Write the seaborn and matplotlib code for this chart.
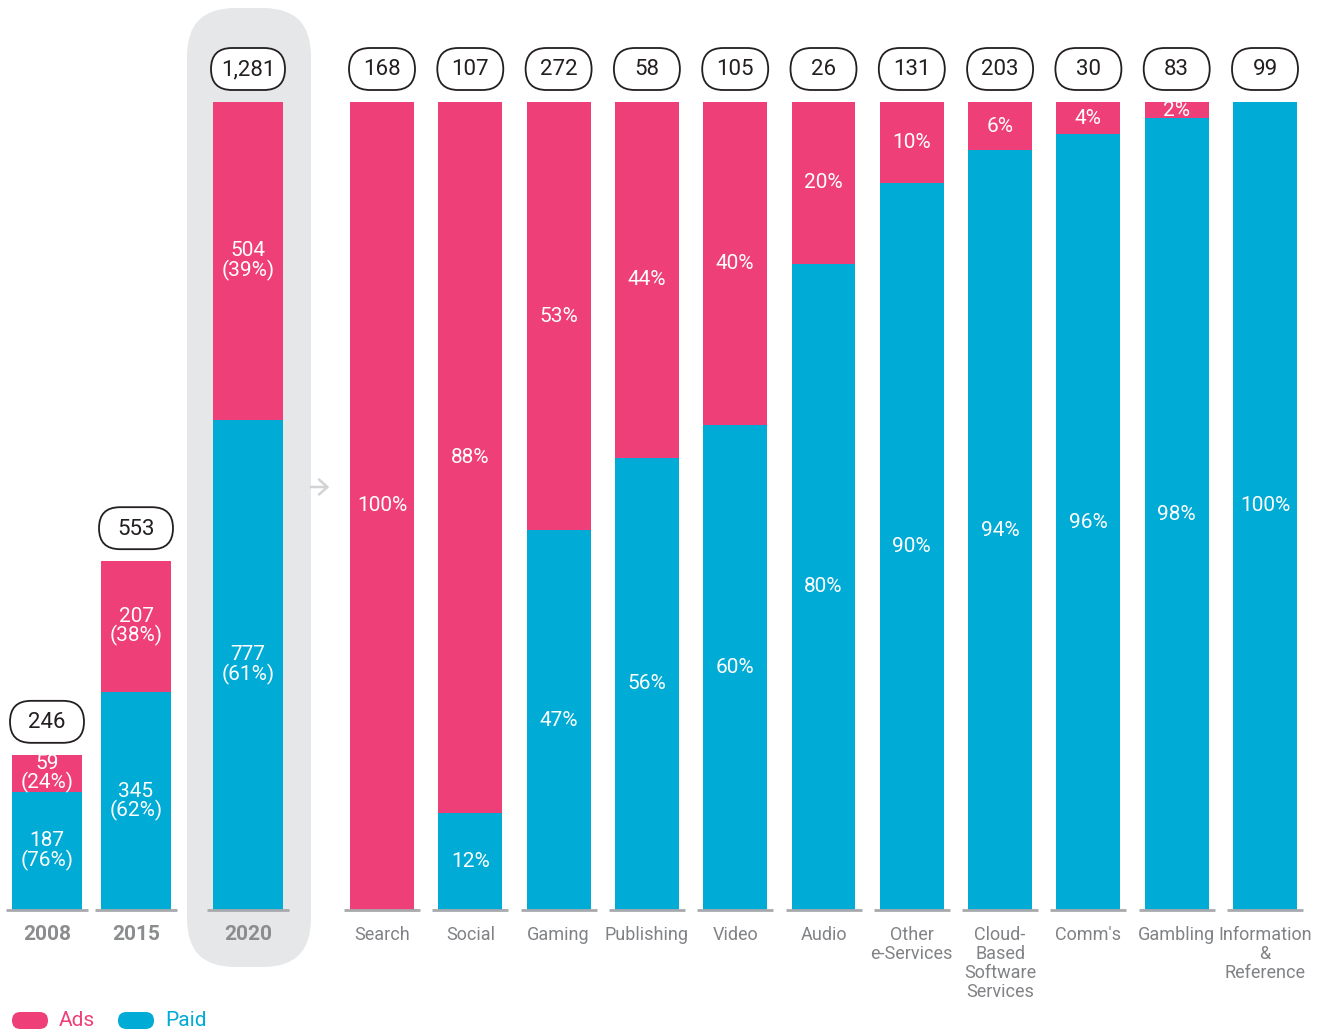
import matplotlib
matplotlib.use("Agg")
import matplotlib.pyplot as plt
from matplotlib.patches import FancyBboxPatch
import seaborn as sns
import pandas as pd

# data
years = ['2008', '2015', '2020']
year_total = [246, 553, 1281]
year_ads = [59, 207, 504]
year_paid = [187, 345, 777]
year_ads_pct = [24, 38, 39]
year_paid_pct = [76, 62, 61]

categories = ['Search', 'Social', 'Gaming', 'Publishing', 'Video', 'Audio',
              'Other\ne-Services', 'Cloud-\nBased\nSoftware\nServices', "Comm's",
              'Gambling', 'Information\n&\nReference']
cat_total = [168, 107, 272, 58, 105, 26, 131, 203, 30, 83, 99]
cat_ads_pct = [100, 88, 53, 44, 40, 20, 10, 6, 4, 2, 0]
cat_paid_pct = [0, 12, 47, 56, 60, 80, 90, 94, 96, 98, 100]

PINK = '#EF3F78'
BLUE = '#00ABD5'
GREY_TXT = '#808285'
FONT = 'Roboto'

sns.set_theme(style='white')
plt.rcParams['font.family'] = [FONT, 'DejaVu Sans']

W, H = 1323, 1034
fig = plt.figure(figsize=(W / 100, H / 100), dpi=100)
bg = fig.add_axes([0, 0, 1, 1])
bg.set_xlim(0, W)
bg.set_ylim(H, 0)
bg.axis('off')
bg.set_zorder(0)
ax = fig.add_axes([0, 0, 1, 1])
ax.set_zorder(1)
ax.patch.set_visible(False)

# layout: x in pixel units, y: full bar = 1.0
base_px, full_px = 910, 808
ax.set_xlim(0, W)
ax.set_ylim(-(H - base_px) / full_px, base_px / full_px)

left_x = [47, 136, 248]
step = 88.3
right_x = [382 + step * i for i in range(len(categories))]
left_w, right_w = 70, 64

scale = year_total[-1]
left = pd.DataFrame({'x': left_x, 'total': [t / scale for t in year_total],
                     'paid': [p / scale for p in year_paid]})
right = pd.DataFrame({'x': right_x,
                      'total': [(a + p) / 100 for a, p in zip(cat_ads_pct, cat_paid_pct)],
                      'paid': [p / 100 for p in cat_paid_pct]})

for df, w in [(left, left_w / 89), (right, right_w / step)]:
    sns.barplot(data=df, x='x', y='total', native_scale=True, orient='x', color=PINK,
                saturation=1, width=w, errorbar=None, ax=ax, linewidth=0)
    sns.barplot(data=df, x='x', y='paid', native_scale=True, orient='x', color=BLUE,
                saturation=1, width=w, errorbar=None, ax=ax, linewidth=0)
ax.set_xlim(0, W)
ax.set_ylim(-(H - base_px) / full_px, base_px / full_px)
ax.axis('off')

def ypx(y):
    return H - ax.transData.transform((0, y))[1]

# grey highlight behind 2020
bg.add_patch(FancyBboxPatch((187, 8), 124, 959, boxstyle='round,pad=0,rounding_size=48',
                            facecolor='#E6E7E8', edgecolor='none'))
bg.annotate('', xy=(332, 487), xytext=(308, 487),
            arrowprops=dict(arrowstyle='->,head_length=0.5,head_width=0.45',
                            color='#D1D3D4', lw=1.8))

# baselines
for xs, w in [(left_x, left_w), (right_x, right_w)]:
    for x in xs:
        ax.plot([x - w / 2 - 6, x + w / 2 + 6], [0, 0], color='#A7A9AC', lw=2,
                solid_capstyle='butt', zorder=3)

# total pills
def pill(x, top, w, label):
    yc = ypx(top) - 33
    h = 42
    bg.add_patch(FancyBboxPatch((x - w / 2, yc - h / 2), w, h,
                                boxstyle=f'round,pad=0,rounding_size={h / 2}',
                                facecolor='white', edgecolor='#231F20', lw=1.3))
    bg.text(x, yc + 1, label, ha='center', va='center', fontsize=16,
            color='#231F20')

for x, t, tot in zip(left_x, left['total'], year_total):
    pill(x, t, left_w + 4, f'{tot:,}')
for x, t, tot in zip(right_x, right['total'], cat_total):
    pill(x, t, right_w + 2, f'{tot:,}')

# inner labels
lab = dict(ha='center', va='center', color='white', fontsize=15)
for i, (x, t, p) in enumerate(zip(left_x, left['total'], left['paid'])):
    ax.text(x, (t + p) / 2, f'{year_ads[i]}\n({year_ads_pct[i]}%)', linespacing=0.95, **lab)
    ax.text(x, p / 2, f'{year_paid[i]}\n({year_paid_pct[i]}%)', linespacing=0.95, **lab)
for x, t, p, ap, pp in zip(right_x, right['total'], right['paid'], cat_ads_pct, cat_paid_pct):
    if ap:
        ax.text(x, (t + p) / 2, f'{ap}%', **lab)
    if pp:
        ax.text(x, p / 2, f'{pp}%', **lab)

# axis labels
for x, yr in zip(left_x, years):
    bg.text(x, 935, yr, ha='center', va='center', fontsize=15, fontweight='bold',
            color='#8A8C8E')
for x, c in zip(right_x, categories):
    bg.text(x, 926, c, ha='center', va='top', fontsize=13,
            color=GREY_TXT, linespacing=1.08)

# legend
for x0, txt, col in [(12, 'Ads', PINK), (118, 'Paid', BLUE)]:
    bg.add_patch(FancyBboxPatch((x0, 1012), 36, 17, boxstyle='round,pad=0,rounding_size=8.5',
                                facecolor=col, edgecolor='none'))
    bg.text(x0 + 47, 1020, txt, ha='left', va='center', fontsize=15, color=col)

fig.savefig('out.png', dpi=100)
